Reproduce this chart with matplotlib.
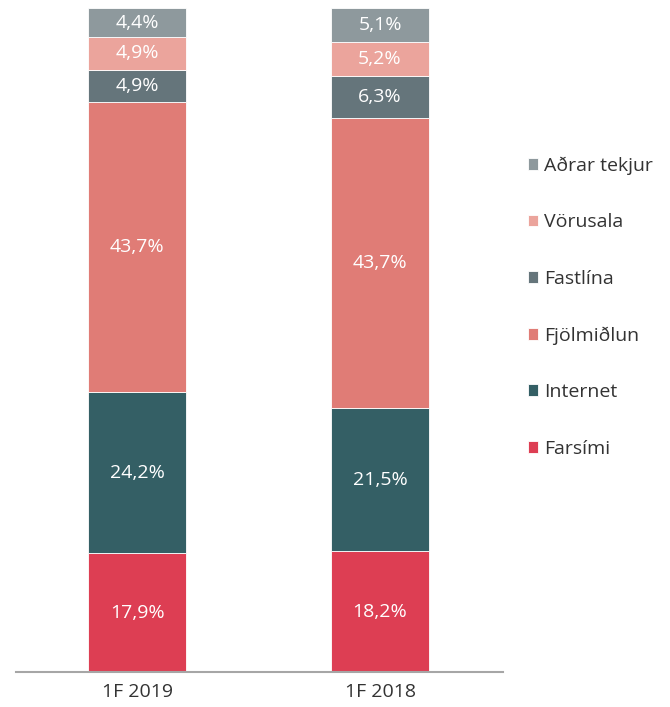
import matplotlib.pyplot as plt
import numpy as np

periods = ['1F 2019', '1F 2018']
segments = ['Farsími', 'Internet', 'Fjölmiðlun', 'Fastlína', 'Vörusala', 'Aðrar tekjur']
values = {
    'Farsími': [17.9, 18.2],
    'Internet': [24.2, 21.5],
    'Fjölmiðlun': [43.7, 43.7],
    'Fastlína': [4.9, 6.3],
    'Vörusala': [4.9, 5.2],
    'Aðrar tekjur': [4.4, 5.1],
}
colors = {
    'Farsími': '#DD3E53',
    'Internet': '#345F65',
    'Fjölmiðlun': '#E07C76',
    'Fastlína': '#65757B',
    'Vörusala': '#EBA49C',
    'Aðrar tekjur': '#8E999D',
}

plt.rcParams['font.family'] = ['Open Sans', 'DejaVu Sans']

fig = plt.figure(figsize=(6.7, 7.07), dpi=100)
ax = fig.add_axes([16 / 670, 35 / 707, 487 / 670, 664 / 707])

x = np.arange(len(periods))
bottom = np.zeros(len(periods))
handles = []
for seg in segments:
    vals = np.array(values[seg])
    b = ax.bar(x, vals, 0.403, bottom=bottom, color=colors[seg], label=seg,
               edgecolor='white', linewidth=0.6)
    handles.append(b)
    for xi, v, b0 in zip(x, vals, bottom):
        ax.text(xi, b0 + v / 2, f'{v:.1f}%'.replace('.', ','), ha='center', va='center',
                color='white', fontsize=14)
    bottom += vals

ax.set_xlim(-0.498, 1.506)
ax.set_ylim(0, 100)
ax.set_xticks(x)
ax.set_xticklabels(periods, fontsize=14, color='#333333')
ax.tick_params(axis='x', length=0, pad=8)
ax.set_yticks([])
for s in ['top', 'right', 'left']:
    ax.spines[s].set_visible(False)
ax.spines['bottom'].set_color('#A6A6A6')
ax.spines['bottom'].set_linewidth(1.5)

leg = fig.legend(handles[::-1], segments[::-1], loc='center left',
                 bbox_to_anchor=(510 / 670, 1 - 307 / 707), frameon=False,
                 fontsize=14, handlelength=0.55, handleheight=0.55,
                 handletextpad=0.3, labelspacing=1.98)
for t in leg.get_texts():
    t.set_color('#333333')

fig.savefig('out.png', dpi=100)
